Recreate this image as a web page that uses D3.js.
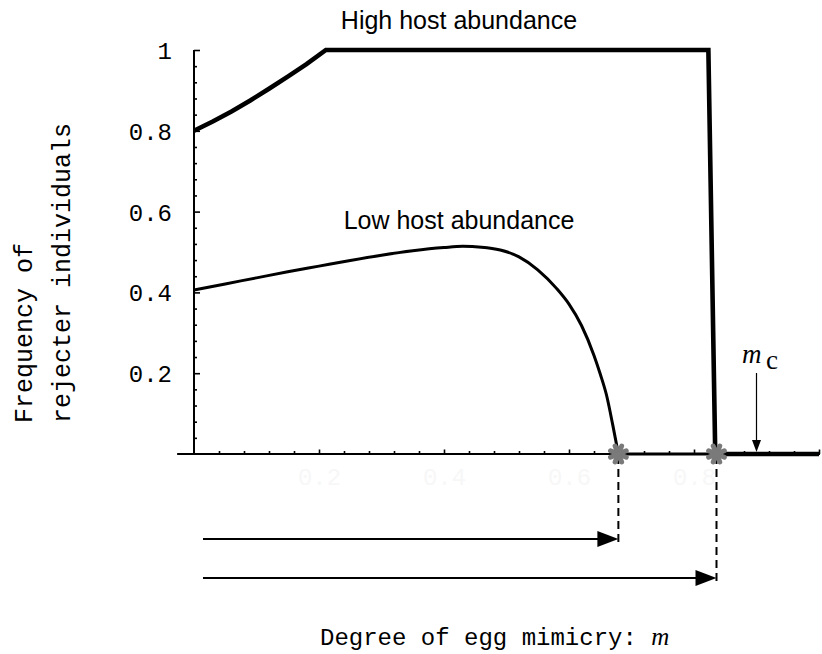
<!DOCTYPE html>
<html>
<head>
<meta charset="utf-8">
<script src="https://cdn.jsdelivr.net/npm/d3@7"></script>
<style>
  html, body { margin: 0; padding: 0; background: #fff; }
  svg { display: block; }
</style>
</head>
<body>
<svg id="chart" width="822" height="654"></svg>
<script>
// ---------- data ----------
const highX = [0, 0.03, 0.06, 0.09, 0.12, 0.15, 0.18, 0.211, 0.823, 0.834, 1.0];
const highY = [0.800, 0.823, 0.848, 0.875, 0.904, 0.934, 0.965, 1.0, 1.0, 0.0, 0.0];

const lowX = [0, 0.05, 0.1, 0.15, 0.2, 0.25, 0.3, 0.35, 0.4, 0.43, 0.46, 0.49, 0.52, 0.55, 0.58, 0.60, 0.62, 0.64, 0.65, 0.66, 0.67, 0.679];
const lowY = [0.406, 0.421, 0.436, 0.451, 0.465, 0.479, 0.492, 0.503, 0.511, 0.514, 0.512, 0.505, 0.488, 0.456, 0.410, 0.371, 0.318, 0.244, 0.198, 0.146, 0.072, 0.0];
const lowTailX = [0.679, 1.0];
const lowTailY = [0, 0];

const extinctionPoints = [0.679, 0.836];   // grey asterisks
const mcValue = 0.90;

const yTickLabels = ["0.2", "0.4", "0.6", "0.8", "1"];
const yTickValues = [0.2, 0.4, 0.6, 0.8, 1.0];
const xTickLabels = ["0.2", "0.4", "0.6", "0.8"];
const xTickValues = [0.2, 0.4, 0.6, 0.8];

const titleHigh = "High host abundance";
const titleLow = "Low host abundance";
const yLabel1 = "Frequency of";
const yLabel2 = "rejecter individuals";
const xLabel = "Degree of egg mimicry: ";

// ---------- layout ----------
const svg = d3.select("#chart");
const x = d3.scaleLinear().domain([0, 1]).range([194, 819]);
const y = d3.scaleLinear().domain([0, 1]).range([454, 50]);

const mono = "'Liberation Mono', 'Courier New', monospace";
const sans = "'Liberation Sans', Arial, sans-serif";
const serif = "'Liberation Serif', 'Times New Roman', serif";

const minorTicks = d3.range(1, 25).map(i => +(i * 0.04).toFixed(2)).filter(v => !yTickValues.some(m => Math.abs(m - v) < 1e-6));
const minorTicksX = d3.range(1, 26).map(i => +(i * 0.04).toFixed(2)).filter(v => !xTickValues.concat([1]).some(m => Math.abs(m - v) < 1e-6));

// y-axis ticks (pointing right, into the plot)
const yMaj = svg.append("g").attr("transform", `translate(${x(0)},0)`)
  .call(d3.axisRight(y).tickValues(yTickValues).tickSize(6).tickFormat(""));
const yMin = svg.append("g").attr("transform", `translate(${x(0)},0)`)
  .call(d3.axisRight(y).tickValues(minorTicks).tickSize(3).tickFormat(""));
[yMaj, yMin].forEach(g => { g.select(".domain").remove(); g.selectAll("line").attr("stroke", "#000").attr("stroke-width", 1.6); });

// y tick labels
const yLab = svg.append("g").attr("transform", `translate(${x(0)},0)`)
  .call(d3.axisLeft(y).tickValues(yTickValues).tickSize(0).tickPadding(22).tickFormat((d, i) => yTickLabels[i]));
yLab.select(".domain").remove();
yLab.selectAll("text").attr("font-family", mono).attr("font-size", 24).attr("fill", "#000").attr("dy", "0.35em");

// x-axis ticks (pointing up)
const xMaj = svg.append("g").attr("transform", `translate(0,${y(0)})`)
  .call(d3.axisTop(x).tickValues(xTickValues.concat([1])).tickSize(4.5).tickFormat(""));
const xMin = svg.append("g").attr("transform", `translate(0,${y(0)})`)
  .call(d3.axisTop(x).tickValues(minorTicksX).tickSize(3).tickFormat(""));
[xMaj, xMin].forEach(g => { g.select(".domain").remove(); g.selectAll("line").attr("stroke", "#000").attr("stroke-width", 1.6); });

// faint x tick labels
const xLab = svg.append("g").attr("transform", `translate(0,${y(0)})`)
  .call(d3.axisBottom(x).tickValues(xTickValues).tickSize(0).tickPadding(14).tickFormat((d, i) => xTickLabels[i]));
xLab.select(".domain").remove();
xLab.selectAll("text").attr("font-family", mono).attr("font-size", 24).attr("fill", "#f7f7f7");

// axis lines
svg.append("line").attr("x1", x(0)).attr("x2", x(0)).attr("y1", y(0)).attr("y2", y(1))
  .attr("stroke", "#000").attr("stroke-width", 2);
svg.append("line").attr("x1", x(-0.027)).attr("x2", x(1.0016)).attr("y1", y(0)).attr("y2", y(0))
  .attr("stroke", "#000").attr("stroke-width", 2);

// curves
const lowLine = d3.line().x(d => x(d[0])).y(d => y(d[1])).curve(d3.curveMonotoneX);
const linLine = d3.line().x(d => x(d[0])).y(d => y(d[1]));

svg.append("path").attr("d", lowLine(d3.zip(lowX, lowY)))
  .attr("fill", "none").attr("stroke", "#000").attr("stroke-width", 3);
svg.append("path").attr("d", linLine(d3.zip(lowTailX, lowTailY)))
  .attr("fill", "none").attr("stroke", "#000").attr("stroke-width", 3);
svg.append("path").attr("d", linLine(d3.zip(highX, highY)))
  .attr("fill", "none").attr("stroke", "#000").attr("stroke-width", 4.6).attr("stroke-linejoin", "miter");

// dashed drops and arrows
const arrowYs = [539, 578];
extinctionPoints.forEach((v, i) => {
  const ax = x(v);
  svg.append("line").attr("x1", ax).attr("x2", ax).attr("y1", y(0) + 2).attr("y2", arrowYs[i] + 4)
    .attr("stroke", "#000").attr("stroke-width", 2).attr("stroke-dasharray", "8,5");
  svg.append("line").attr("x1", 203).attr("x2", ax - 18).attr("y1", arrowYs[i]).attr("y2", arrowYs[i])
    .attr("stroke", "#000").attr("stroke-width", 2);
  svg.append("path").attr("d", `M${ax},${arrowYs[i]} L${ax - 21},${arrowYs[i] - 8} L${ax - 21},${arrowYs[i] + 8} Z`)
    .attr("fill", "#000");
});

// asterisks
extinctionPoints.forEach(v => {
  const g = svg.append("g").attr("transform", `translate(${x(v)},${y(0)})`);
  [0, 45, 90, 135].forEach(a => {
    g.append("line").attr("x1", -8.5).attr("x2", 8.5).attr("y1", 0).attr("y2", 0)
      .attr("transform", `rotate(${a + 22.5})`)
      .attr("stroke", "#7a7a7a").attr("stroke-width", 5).attr("stroke-linecap", "round");
  });
});

// m_c marker
const mcx = x(mcValue);
svg.append("line").attr("x1", mcx).attr("x2", mcx).attr("y1", 373).attr("y2", 441)
  .attr("stroke", "#000").attr("stroke-width", 1.2);
svg.append("path").attr("d", `M${mcx},${452} L${mcx - 4.5},${440} L${mcx + 4.5},${440} Z`).attr("fill", "#000");
svg.append("text").attr("x", 742).attr("y", 363).attr("font-family", serif).attr("font-style", "italic")
  .attr("font-size", 27).attr("fill", "#000").text("m");
svg.append("text").attr("x", 766).attr("y", 369).attr("font-family", serif)
  .attr("font-size", 27).attr("fill", "#000").text("c");

// titles
svg.append("text").attr("x", 459).attr("y", 29).attr("text-anchor", "middle")
  .attr("font-family", sans).attr("font-size", 25).attr("fill", "#000").text(titleHigh);
svg.append("text").attr("x", 459).attr("y", 229).attr("text-anchor", "middle")
  .attr("font-family", sans).attr("font-size", 25).attr("fill", "#000").text(titleLow);

// y label (two lines, start-aligned at the bottom)
const yl = svg.append("text").attr("transform", "translate(0,423) rotate(-90)")
  .attr("font-family", mono).attr("font-size", 25).attr("fill", "#000");
yl.append("tspan").attr("x", 0).attr("y", 32).text(yLabel1);
yl.append("tspan").attr("x", 0).attr("y", 70).text(yLabel2);

// x label
const xl = svg.append("text").attr("x", 320).attr("y", 645)
  .attr("font-family", mono).attr("font-size", 24).attr("fill", "#000");
xl.append("tspan").text(xLabel);
xl.append("tspan").attr("font-family", serif).attr("font-style", "italic").attr("font-size", 25).text("m");
</script>
</body>
</html>
